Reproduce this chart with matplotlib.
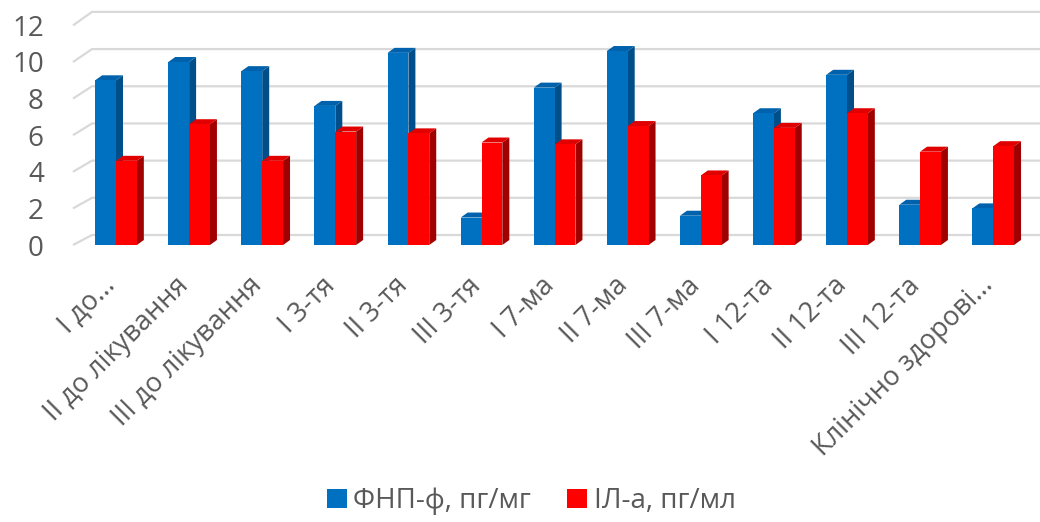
import matplotlib.pyplot as plt
from matplotlib.patches import Polygon, Patch

plt.rcParams['font.family'] = ['Open Sans', 'DejaVu Sans']

categories = [
    "І до...", "ІІ до лікування", "ІІІ до лікування", "І 3-тя", "ІІ 3-тя",
    "ІІІ 3-тя", "І 7-ма", "ІІ 7-ма", "ІІІ 7-ма", "І 12-та", "ІІ 12-та",
    "ІІІ 12-та", "Клінічно здорові...",
]
fnp = [9.0, 10.0, 9.5, 7.6, 10.5, 1.5, 8.6, 10.6, 1.6, 7.2, 9.3, 2.2, 2.0]
il = [4.6, 6.6, 4.6, 6.2, 6.1, 5.6, 5.5, 6.5, 3.8, 6.4, 7.2, 5.1, 5.4]
series = [
    ("ФНП-ф, пг/мг", fnp, ("#0070C0", "#0062AC", "#004F8A")),
    ("ІЛ-а, пг/мл", il, ("#FF0000", "#E00000", "#A00000")),
]
yticks = [0, 2, 4, 6, 8, 10, 12]

W, H = 1040, 522
PX_X = 73.1   # pixels per category
PX_Y = 18.3   # pixels per unit of value
BAR_W = 0.285
DEPTH_X, DEPTH_Y = 7 / PX_X, 5 / PX_Y      # bar depth
WALL_X = 19 / PX_X                          # wall depth

fig = plt.figure(figsize=(W / 100, H / 100), dpi=100)
left = 73
base = 245
ax = fig.add_axes([left / W, (H - base) / H, 1 - left / W, base / H])
x0 = (left - 116) / PX_X
ax.set_xlim(x0, x0 + (W - left) / PX_X)
ax.set_ylim(0, base / PX_Y)
for s in ax.spines.values():
    s.set_visible(False)


def back(v):
    # value on the back wall, in front-plane units
    return 0.546 + 1.016 * v


# walls: gridlines on back wall plus the receding lines on the left side
for v in yticks:
    ax.plot([x0, x0 + WALL_X, ax.get_xlim()[1]], [v, back(v), back(v)],
            color="#D9D9D9", lw=1.6, zorder=1, clip_on=False,
            solid_capstyle="butt")

for i in range(len(categories)):
    for k, (name, vals, (c_front, c_top, c_side)) in enumerate(series):
        v = vals[i]
        xl = i - BAR_W + k * BAR_W
        xr = xl + BAR_W
        z = 2 + i * 0.01 + k * 0.001
        side = [(xr, 0), (xr + DEPTH_X, DEPTH_Y), (xr + DEPTH_X, v + DEPTH_Y), (xr, v)]
        top = [(xl, v), (xr, v), (xr + DEPTH_X, v + DEPTH_Y), (xl + DEPTH_X, v + DEPTH_Y)]
        ax.add_patch(Polygon(side, closed=True, fc=c_side, ec="none", zorder=z))
        ax.add_patch(Polygon(top, closed=True, fc=c_top, ec="none", zorder=z))
        ax.bar(xl, v, width=BAR_W, align="edge", color=c_front, zorder=z + 0.0005)

ax.set_yticks(yticks)
ax.set_yticklabels([str(t) for t in yticks])
ax.tick_params(axis="y", length=0, pad=21, labelsize=20, labelcolor="#595959")
ax.set_xticks([])

for i, label in enumerate(categories):
    ax.text(i - 0.06, -2.0, label, rotation=45, rotation_mode="anchor",
            ha="right", va="center", fontsize=19.5, color="#595959",
            clip_on=False)

handles = [Patch(facecolor=c[0], edgecolor="none", label=n) for n, _, c in series]
fig.legend(handles=handles, loc="center", bbox_to_anchor=(0.511, 0.04),
           ncol=2, frameon=False, fontsize=20, labelcolor="#595959",
           handlelength=0.72, handleheight=0.72, handletextpad=0.25,
           columnspacing=1.3, borderpad=0.1)

fig.savefig("out.png", dpi=100)
